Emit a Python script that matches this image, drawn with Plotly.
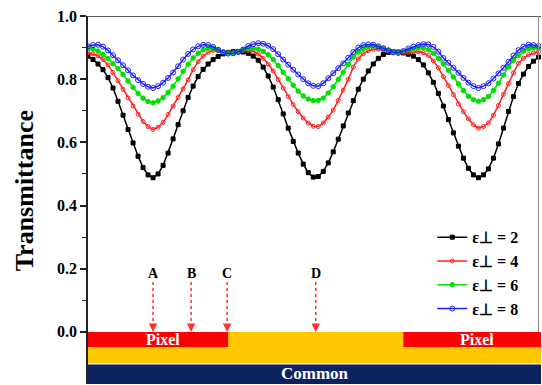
import numpy as np
import plotly.graph_objects as go

# sample positions (µm across the cell, 0.2 µm step)
x_pos = np.round(np.arange(0, 18.001, 0.2), 1)

eps_labels = ["ε⊥ = 2", "ε⊥ = 4", "ε⊥ = 6", "ε⊥ = 8"]

t_eps2 = [0.873,0.862,0.848,0.830,0.805,0.772,0.730,0.686,0.641,0.598,
          0.556,0.520,0.497,0.488,0.500,0.527,0.566,0.611,0.656,0.700,
          0.742,0.778,0.808,0.831,0.848,0.862,0.872,0.880,0.885,0.887,
          0.887,0.886,0.882,0.873,0.860,0.838,0.810,0.775,0.735,0.690,
          0.645,0.603,0.566,0.531,0.504,0.490,0.492,0.508,0.535,0.570,
          0.610,0.652,0.693,0.732,0.768,0.800,0.826,0.848,0.866,0.878,
          0.885,0.887,0.886,0.883,0.879,0.873,0.862,0.845,0.820,0.790,
          0.755,0.715,0.672,0.630,0.588,0.550,0.518,0.497,0.488,0.497,
          0.516,0.550,0.595,0.645,0.698,0.745,0.786,0.816,0.840,0.857,
          0.870]

t_eps4 = [0.884,0.880,0.874,0.862,0.845,0.821,0.795,0.768,0.741,0.715,
          0.689,0.666,0.650,0.641,0.648,0.663,0.688,0.715,0.742,0.769,
          0.798,0.830,0.855,0.873,0.885,0.891,0.890,0.887,0.885,0.884,
          0.886,0.889,0.891,0.888,0.880,0.866,0.848,0.826,0.799,0.772,
          0.745,0.720,0.697,0.677,0.661,0.651,0.650,0.661,0.680,0.702,
          0.733,0.765,0.800,0.838,0.864,0.881,0.890,0.895,0.895,0.893,
          0.889,0.885,0.883,0.883,0.885,0.887,0.887,0.884,0.875,0.858,
          0.836,0.808,0.780,0.751,0.722,0.697,0.674,0.656,0.645,0.650,
          0.661,0.686,0.717,0.752,0.786,0.820,0.850,0.866,0.877,0.883,
          0.887]

t_eps6 = [0.896,0.895,0.889,0.878,0.865,0.849,0.834,0.815,0.794,0.774,
          0.755,0.740,0.729,0.725,0.731,0.741,0.758,0.778,0.801,0.825,
          0.847,0.867,0.882,0.893,0.898,0.898,0.893,0.887,0.883,0.882,
          0.887,0.893,0.897,0.898,0.895,0.888,0.877,0.862,0.843,0.822,
          0.801,0.781,0.762,0.747,0.737,0.732,0.733,0.740,0.756,0.776,
          0.799,0.822,0.847,0.870,0.886,0.897,0.903,0.905,0.903,0.898,
          0.892,0.887,0.885,0.888,0.893,0.897,0.899,0.899,0.893,0.882,
          0.866,0.848,0.828,0.807,0.785,0.764,0.746,0.735,0.730,0.735,
          0.745,0.764,0.787,0.813,0.839,0.860,0.876,0.889,0.897,0.899,
          0.898]

t_eps8 = [0.904,0.908,0.909,0.903,0.891,0.876,0.860,0.844,0.828,0.812,
          0.797,0.785,0.776,0.772,0.778,0.789,0.804,0.821,0.841,0.862,
          0.880,0.894,0.904,0.909,0.908,0.902,0.893,0.884,0.881,0.882,
          0.886,0.894,0.905,0.911,0.914,0.912,0.906,0.895,0.879,0.862,
          0.846,0.830,0.815,0.800,0.787,0.779,0.778,0.787,0.803,0.819,
          0.835,0.850,0.868,0.886,0.900,0.908,0.910,0.909,0.904,0.898,
          0.891,0.885,0.883,0.889,0.897,0.903,0.908,0.911,0.910,0.902,
          0.887,0.867,0.852,0.836,0.820,0.804,0.789,0.778,0.772,0.778,
          0.787,0.802,0.818,0.836,0.855,0.875,0.892,0.903,0.909,0.908,
          0.905]

# electrode layout (µm)
pixel_spans = [(0.0, 5.6), (12.6, 18.1)]
cell_span = (0.0, 18.1)
probe_labels = ["A", "B", "C", "D"]
probe_pos = [2.6, 4.12, 5.56, 9.1]

y_ticks = [0.0, 0.2, 0.4, 0.6, 0.8, 1.0]
y_tick_text = ["0.0", "0.2", "0.4", "0.6", "0.8", "1.0"]

series = [t_eps2, t_eps4, t_eps6, t_eps8]
colors = ["#000000", "#FF2020", "#00E000", "#2020FF"]
symbols = ["square", "circle-open", "circle", "circle-open"]
msizes = [4, 4, 4.5, 5]

SERIF = "Liberation Serif"

fig = go.Figure()
for lab, ys, c, s, ms in zip(eps_labels, series, colors, symbols, msizes):
    fig.add_trace(go.Scatter(
        x=x_pos, y=ys, mode="lines+markers", name=lab,
        line=dict(color=c, width=1.5),
        marker=dict(symbol=s, size=ms, color=c, line=dict(color=c, width=1)),
    ))

shapes = []
# common electrode (navy) and insulating layer (gold)
shapes.append(dict(type="rect", xref="x", yref="y", x0=cell_span[0], x1=cell_span[1],
                   y0=-0.165, y1=-0.103, fillcolor="#0C2260", line=dict(width=0), layer="above"))
shapes.append(dict(type="rect", xref="x", yref="y", x0=cell_span[0], x1=cell_span[1],
                   y0=-0.100, y1=0.0, fillcolor="#FFC800", line=dict(width=0), layer="above"))
for a, b in pixel_spans:
    shapes.append(dict(type="rect", xref="x", yref="y", x0=a, x1=b, y0=-0.048, y1=0.0,
                       fillcolor="#FF0000", line=dict(width=0), layer="above"))
# frame (top and right)
shapes.append(dict(type="line", xref="x", yref="y", x0=0, x1=18.1, y0=1.0, y1=1.0,
                   line=dict(color="#222222", width=1.5)))
shapes.append(dict(type="line", xref="x", yref="y", x0=18.0, x1=18.0, y0=0.0, y1=1.0,
                   line=dict(color="#888888", width=1)))
# dashed probe lines
for p in probe_pos:
    shapes.append(dict(type="line", xref="x", yref="y", x0=p, x1=p, y0=0.158, y1=0.012,
                       line=dict(color="#FF3030", width=1.5, dash="dot")))

annotations = []
for lab, p in zip(probe_labels, probe_pos):
    annotations.append(dict(x=p, y=0.184, xref="x", yref="y", text=lab, showarrow=False,
                            font=dict(family=SERIF, size=14, color="black", weight="bold")))
    annotations.append(dict(x=p, y=0.0, xref="x", yref="y", text="", showarrow=True,
                            ax=0, ay=-7, arrowhead=2, arrowsize=1.3, arrowwidth=1.3,
                            arrowcolor="#FF3030"))
for a, b in pixel_spans:
    annotations.append(dict(x=(a + min(b, 18.1)) / 2 + 0.2, y=-0.024, xref="x", yref="y",
                            text="Pixel", showarrow=False,
                            font=dict(family=SERIF, size=16, color="white", weight="bold")))
annotations.append(dict(x=(cell_span[0] + cell_span[1]) / 2, y=-0.133, xref="x", yref="y",
                        text="Common", showarrow=False,
                        font=dict(family=SERIF, size=17, color="white", weight="bold")))
annotations.append(dict(x=0, xref="paper", xshift=-64, xanchor="center", y=0.445, yref="y",
                        text="Transmittance", textangle=-90, showarrow=False,
                        font=dict(family=SERIF, size=26, color="black", weight="bold")))

fig.update_layout(
    width=542, height=385,
    margin=dict(l=88, r=1, t=16, b=1),
    paper_bgcolor="white", plot_bgcolor="white",
    showlegend=True,
    legend=dict(x=0.76, y=0.445, xanchor="left", yanchor="top",
                bgcolor="rgba(0,0,0,0)", borderwidth=0,
                font=dict(family=SERIF, size=16, color="black", weight="bold"),
                itemwidth=30, tracegroupgap=0),
    shapes=shapes, annotations=annotations,
    xaxis=dict(range=[0, 18.1], showgrid=False, zeroline=False, showticklabels=False,
               ticks="", showline=False),
    yaxis=dict(range=[-0.165, 1.0], showgrid=False, zeroline=False,
               tickvals=y_ticks, ticktext=y_tick_text, ticks="outside", ticklen=6,
               tickwidth=1.5, tickcolor="#222222",
               tickfont=dict(family=SERIF, size=16, color="black", weight="bold"),
               showline=True, linecolor="#222222", linewidth=1.5,
               minor=dict(tickvals=[0.1, 0.3, 0.5, 0.7, 0.9], ticks="outside", ticklen=4,
                          tickwidth=1.2, tickcolor="#222222")),
)

fig.write_html("out.html", config={"displayModeBar": False},
               post_script="document.body.style.margin='0px';")
